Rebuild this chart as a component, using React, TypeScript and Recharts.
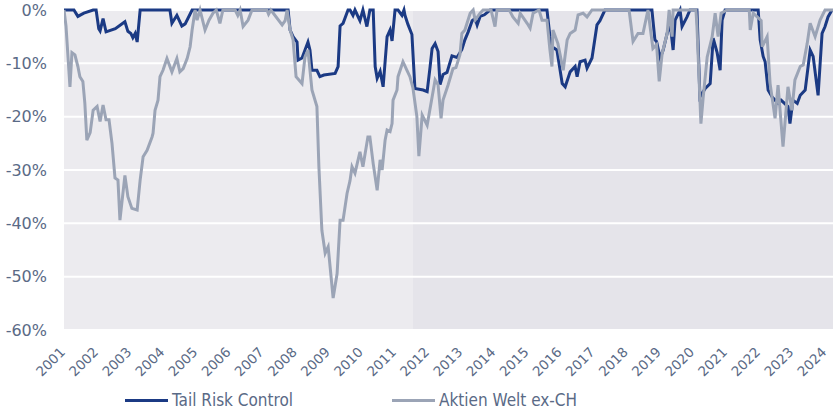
import React from "react";
import { LineChart, Line, XAxis, YAxis, CartesianGrid, ReferenceArea, Legend } from "recharts";

const yearTicks = [2001, 2002, 2003, 2004, 2005, 2006, 2007, 2008, 2009, 2010, 2011, 2012, 2013, 2014, 2015, 2016, 2017, 2018, 2019, 2020, 2021, 2022, 2023, 2024];
const pctTicks = [0, -10, -20, -30, -40, -50, -60];
const seriesNames = ["Tail Risk Control", "Aktien Welt ex-CH"];
const periodSplit = [2001, 2011.54, 2024.23];

const tailDates = [
  2001.0, 2001.3, 2001.42, 2001.6, 2001.88, 2001.97, 2002.05, 2002.09, 2002.18, 2002.27, 2002.55, 2002.84, 2002.93, 2003.02, 2003.08, 2003.15, 2003.21, 2003.3,
  2004.2, 2004.26, 2004.41, 2004.56, 2004.66, 2004.87, 2007.77, 2007.83, 2007.92, 2008.04, 2008.07, 2008.19, 2008.37, 2008.43, 2008.49, 2008.64, 2008.73, 2008.85,
  2009.19, 2009.28, 2009.34, 2009.43, 2009.58, 2009.64, 2009.73, 2009.79, 2009.94, 2010.03, 2010.15, 2010.24, 2010.34, 2010.4, 2010.46, 2010.55, 2010.64, 2010.76,
  2010.85, 2010.91, 2011.0, 2011.09, 2011.21, 2011.27, 2011.3, 2011.39, 2011.51, 2011.6, 2011.85, 2011.97, 2012.06, 2012.12, 2012.21, 2012.3, 2012.36, 2012.45,
  2012.57, 2012.72, 2012.87, 2013.02, 2013.11, 2013.21, 2013.33, 2013.42, 2013.48, 2013.57, 2013.7, 2013.87, 2015.59, 2015.68, 2015.74, 2015.89, 2016.05, 2016.14,
  2016.29, 2016.44, 2016.5, 2016.59, 2016.74, 2016.8, 2016.95, 2017.1, 2017.19, 2017.34, 2018.76, 2018.85, 2018.9, 2019.01, 2019.1, 2019.22, 2019.31, 2019.4,
  2019.46, 2019.61, 2019.67, 2019.82, 2019.91, 2020.12, 2020.21, 2020.37, 2020.52, 2020.61, 2020.73, 2020.82, 2020.88, 2020.97, 2021.97, 2022.03, 2022.12, 2022.18,
  2022.27, 2022.39, 2022.48, 2022.57, 2022.66, 2022.87, 2022.93, 2023.02, 2023.15, 2023.24, 2023.39, 2023.54, 2023.63, 2023.78, 2023.9, 2023.99, 2024.08, 2024.2,
];
const tailValues = [
  0, 0, -1.2, -0.6, 0, 0, -3.5, -3.9, -1.6, -4.1, -3.5, -2.2, -4.0, -4.4, -5.2, -4.4, -6.0, 0,
  0, -2.5, -1.0, -3.0, -2.6, 0, 0, -3.75, -5.0, -6.0, -9.4, -9.0, -6.0, -7.5, -11.3, -11.3, -12.5, -12.2,
  -11.9, -10.6, -3.0, -2.5, 0, 0, -1.0, 0, -2.0, 0, -3.1, 0, 0, -10.6, -12.8, -11.5, -14.4, -5.0,
  -3.75, -5.8, 0, 0, -1.0, 0, -1.0, -2.7, -4.6, -14.7, -15.0, -15.3, -10.6, -7.2, -6.3, -7.8, -14.0, -12.1,
  -11.7, -8.6, -8.9, -7.4, -5.6, -4.1, -2.0, -1.6, -2.8, -1.2, -0.9, 0, 0, -5.0, -6.9, -7.5, -13.8, -14.4,
  -11.6, -10.6, -12.5, -9.7, -9.4, -10.9, -9.0, -2.8, -2.0, 0, 0, -5.6, -5.9, -9.0, -7.5, -4.4, -2.5, -7.5,
  -1.9, 0, -3.1, -1.3, 0, 0, -16.3, -14.7, -13.8, -5.3, -8.0, -11.3, -1.9, 0, 0, -5.6, -8.7, -9.7,
  -15.0, -16.3, -16.9, -17.5, -16.9, -18.1, -21.3, -16.9, -17.5, -16.0, -15.0, -7.5, -8.7, -16.0, -4.4, -3.1, -1.3, 0,
];

const worldDates = [
  2001.0, 2001.06, 2001.18, 2001.24, 2001.33, 2001.42, 2001.48, 2001.57, 2001.63, 2001.69, 2001.79, 2001.88, 2002.0, 2002.09, 2002.18, 2002.27, 2002.36, 2002.45,
  2002.54, 2002.63, 2002.69, 2002.84, 2002.93, 2003.05, 2003.21, 2003.3, 2003.39, 2003.51, 2003.66, 2003.69, 2003.75, 2003.84, 2003.9, 2003.99, 2004.11, 2004.26,
  2004.41, 2004.5, 2004.6, 2004.72, 2004.81, 2004.87, 2004.96, 2005.02, 2005.11, 2005.26, 2005.38, 2005.5, 2005.6, 2005.71, 2005.8, 2006.17, 2006.25, 2006.32,
  2006.41, 2006.56, 2006.68, 2007.13, 2007.18, 2007.25, 2007.59, 2007.68, 2007.74, 2007.83, 2007.92, 2008.01, 2008.19, 2008.28, 2008.37, 2008.49, 2008.64, 2008.7,
  2008.79, 2008.89, 2008.98, 2009.13, 2009.25, 2009.34, 2009.43, 2009.55, 2009.64, 2009.7, 2009.79, 2009.94, 2010.03, 2010.18, 2010.24, 2010.34, 2010.46, 2010.55,
  2010.61, 2010.7, 2010.76, 2010.85, 2010.91, 2010.94, 2011.06, 2011.09, 2011.24, 2011.36, 2011.45, 2011.54, 2011.66, 2011.72, 2011.82, 2011.97, 2012.12, 2012.21,
  2012.3, 2012.39, 2012.45, 2012.6, 2012.75, 2012.84, 2012.96, 2013.02, 2013.11, 2013.27, 2013.36, 2013.42, 2013.57, 2013.66, 2013.9, 2014.02, 2014.08, 2014.45,
  2014.56, 2014.72, 2014.78, 2014.99, 2015.08, 2015.17, 2015.35, 2015.44, 2015.59, 2015.68, 2015.74, 2015.77, 2015.92, 2016.08, 2016.2, 2016.29, 2016.44, 2016.53,
  2016.68, 2016.8, 2016.95, 2018.07, 2018.19, 2018.34, 2018.49, 2018.64, 2018.79, 2018.9, 2018.98, 2019.07, 2019.22, 2019.28, 2019.37, 2019.4, 2019.55, 2020.09,
  2020.12, 2020.24, 2020.31, 2020.43, 2020.58, 2020.67, 2020.76, 2020.85, 2021.03, 2021.7, 2021.73, 2021.82, 2021.94, 2022.06, 2022.09, 2022.24, 2022.33, 2022.48,
  2022.57, 2022.72, 2022.87, 2022.99, 2023.08, 2023.24, 2023.33, 2023.45, 2023.54, 2023.69, 2023.84, 2023.99, 2024.23,
];
const worldValues = [
  0, -3.0, -14.4, -8.0, -8.4, -10.6, -12.5, -13.4, -17.5, -24.4, -23.0, -18.8, -18.1, -20.9, -17.8, -20.6, -20.6, -25.0,
  -31.5, -31.9, -39.4, -31.0, -35.0, -37.2, -37.5, -31.9, -27.5, -26.3, -23.8, -23.1, -18.8, -16.9, -12.5, -11.3, -9.1, -11.6,
  -9.1, -11.6, -11.0, -9.1, -6.9, -3.75, 0, -1.9, 0, -3.75, -1.9, -0.6, 0, -2.5, 0, 0, -1.0, 0,
  -3.1, -1.9, 0, 0, -0.8, 0, -2.8, -2.0, 0, -3.75, -5.6, -12.5, -13.8, -8.8, -7.5, -15.0, -18.1, -29.4,
  -41.3, -45.6, -44.4, -54.0, -49.4, -39.4, -39.4, -34.4, -32.0, -29.4, -30.6, -26.6, -29.4, -23.8, -23.8, -28.8, -33.8, -28.1,
  -30.0, -24.4, -22.5, -22.8, -21.3, -16.9, -15.0, -12.5, -9.7, -11.3, -12.5, -14.6, -20.0, -27.4, -19.7, -21.6, -16.3, -13.1,
  -14.0, -20.3, -16.9, -14.1, -11.0, -10.8, -8.4, -4.4, -3.75, -0.6, 0, -1.9, -0.6, 0, 0, -3.1, 0, 0,
  -1.3, -2.5, -0.6, -2.5, -3.4, -0.6, 0, -1.9, -1.9, -7.5, -10.6, -3.75, -6.3, -11.3, -5.6, -4.4, -3.75, -0.9,
  -0.6, -1.3, 0, 0, -5.9, -4.4, -4.4, 0, -7.2, -6.5, -13.4, -8.1, -4.4, 0, -5.0, 0, 0, 0,
  -3.1, -21.3, -16.3, -8.8, -5.0, -0.6, -5.0, -0.6, 0, 0, -3.75, -0.6, -1.3, -2.0, -6.9, -5.0, -13.8, -20.3,
  -14.1, -25.6, -14.4, -18.8, -13.1, -10.6, -10.3, -6.3, -2.5, -5.0, -1.9, 0, 0,
];

const tailData = tailDates.map((t, i) => ({ t, v: tailValues[i] }));
const worldData = worldDates.map((t, i) => ({ t, v: worldValues[i] }));

const BLUE = "#1b3a84";
const GREY = "#9ba4b6";
const TEXT = "#5a6a86";

const XTick = (props: any) => {
  const { x, y, payload } = props;
  return (
    <g transform={`translate(${x + 2},${y + 23})`}>
      <text x={0} y={0} textAnchor="end" transform="rotate(-45)" fill={TEXT} fontSize={13.5} fontFamily="DejaVu Sans">
        {payload.value}
      </text>
    </g>
  );
};

const LegendContent = () => {
  const colors = [BLUE, GREY];
  const widths = [267, 200];
  return (
    <div style={{ display: "flex", paddingLeft: 125, paddingTop: 8, height: 22, alignItems: "center" }}>
      {seriesNames.map((n, i) => (
        <div key={n} style={{ display: "flex", alignItems: "center", width: widths[i] }}>
          <div style={{ width: 43, height: 3, background: colors[i], marginRight: 4 }} />
          <span style={{ fontFamily: "DejaVu Sans Condensed", fontSize: 17, color: TEXT }}>{n}</span>
        </div>
      ))}
    </div>
  );
};

export default function App() {
  return (
    <div style={{ position: "absolute", left: 0, top: 0 }}>
      <LineChart width={833} height={411} margin={{ top: 10, right: 0, left: 0, bottom: 0 }}>
        <ReferenceArea x1={periodSplit[0]} x2={periodSplit[1]} y1={-60} y2={0} fill="#ecebef" fillOpacity={1} stroke="none" zIndex={-200} />
        <ReferenceArea x1={periodSplit[1]} x2={periodSplit[2]} y1={-60} y2={0} fill="#e5e4ea" fillOpacity={1} stroke="none" zIndex={-200} />
        <CartesianGrid vertical={false} stroke="#ffffff" strokeWidth={2} />
        <XAxis
          type="number"
          dataKey="t"
          domain={[periodSplit[0], periodSplit[2]]}
          ticks={yearTicks}
          allowDataOverflow
          axisLine={false}
          tickLine={false}
          tickSize={0}
          tickMargin={0}
          height={51}
          interval={0}
          tick={<XTick />}
        />
        <YAxis
          type="number"
          domain={[-60, 0]}
          ticks={pctTicks}
          width={64}
          axisLine={false}
          tickLine={false}
          tickSize={0}
          tickMargin={17}
          tickFormatter={(v: number) => `${v}%`}
          tick={{ fill: TEXT, fontSize: 16, fontFamily: "DejaVu Sans" }}
        />
        <Legend verticalAlign="bottom" align="left" content={<LegendContent />} wrapperStyle={{ height: 30 }} />
        <Line data={tailData} dataKey="v" name={seriesNames[0]} type="linear" stroke={BLUE} strokeWidth={3} dot={false} isAnimationActive={false} />
        <Line data={worldData} dataKey="v" name={seriesNames[1]} type="linear" stroke={GREY} strokeWidth={3} dot={false} isAnimationActive={false} />
      </LineChart>
    </div>
  );
}
